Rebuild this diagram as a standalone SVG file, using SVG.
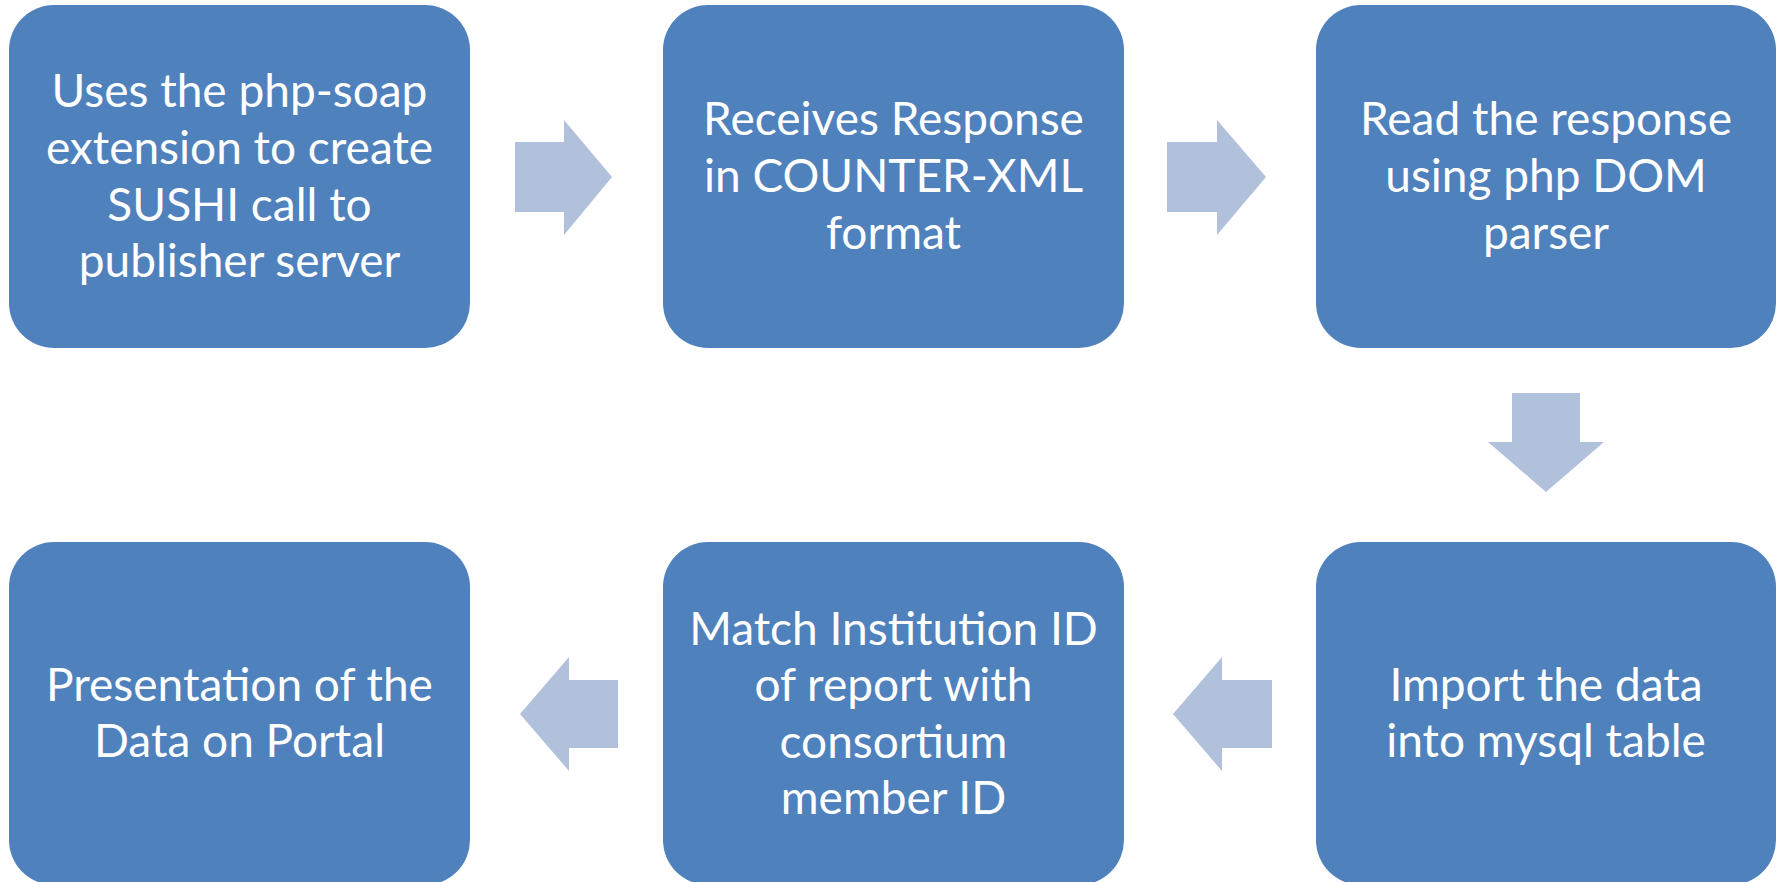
<svg xmlns="http://www.w3.org/2000/svg" width="1785" height="882" viewBox="0 0 1785 882">
<style>
.box{fill:#4F81BD;}
.arr{fill:#B2C1DB;}
.t{font-family:"Lato","Liberation Sans",sans-serif;font-size:46px;fill:#FFFFFF;text-anchor:middle;}
</style>
<rect width="1785" height="882" fill="#FFFFFF"/>
<g id="connectors">
<polygon class="arr" points="515,142 564,142 564,120 612,177 564,235 564,212 515,212"/>
<polygon class="arr" points="1167,142 1217,142 1217,120 1266,177 1217,235 1217,212 1167,212"/>
<polygon class="arr" points="1512,393 1580,393 1580,442 1604,442 1546,492 1488,442 1512,442"/>
<polygon class="arr" points="1272,680 1222,680 1222,657 1173,714 1222,771 1222,748 1272,748"/>
<polygon class="arr" points="618,680 569,680 569,657 520,714 569,771 569,748 618,748"/>
</g>
<g id="n1">
<rect class="box" x="9" y="5" width="461" height="343" rx="45"/>
<text class="t" x="239.5" y="107">Uses the php-soap</text>
<text class="t" x="239.5" y="164">extension to create</text>
<text class="t" x="239.5" y="221">SUSHI call to</text>
<text class="t" x="239.5" y="277">publisher server</text>
</g>
<g id="n2">
<rect class="box" x="663" y="5" width="461" height="343" rx="45"/>
<text class="t" x="893.5" y="135">Receives Response</text>
<text class="t" x="893.5" y="192">in COUNTER-XML</text>
<text class="t" x="893.5" y="249">format</text>
</g>
<g id="n3">
<rect class="box" x="1316" y="5" width="460" height="343" rx="45"/>
<text class="t" x="1546" y="135">Read the response</text>
<text class="t" x="1546" y="192">using php DOM</text>
<text class="t" x="1546" y="249">parser</text>
</g>
<g id="n4">
<rect class="box" x="1316" y="542" width="460" height="343" rx="45"/>
<text class="t" x="1546" y="701">Import the data</text>
<text class="t" x="1546" y="757">into mysql table</text>
</g>
<g id="n5">
<rect class="box" x="663" y="542" width="461" height="343" rx="45"/>
<text class="t" x="893.5" y="645">Match Institution ID</text>
<text class="t" x="893.5" y="701">of report with</text>
<text class="t" x="893.5" y="758">consortium</text>
<text class="t" x="893.5" y="814">member ID</text>
</g>
<g id="n6">
<rect class="box" x="9" y="542" width="461" height="343" rx="45"/>
<text class="t" x="239.5" y="701">Presentation of the</text>
<text class="t" x="239.5" y="757">Data on Portal</text>
</g>
</svg>
